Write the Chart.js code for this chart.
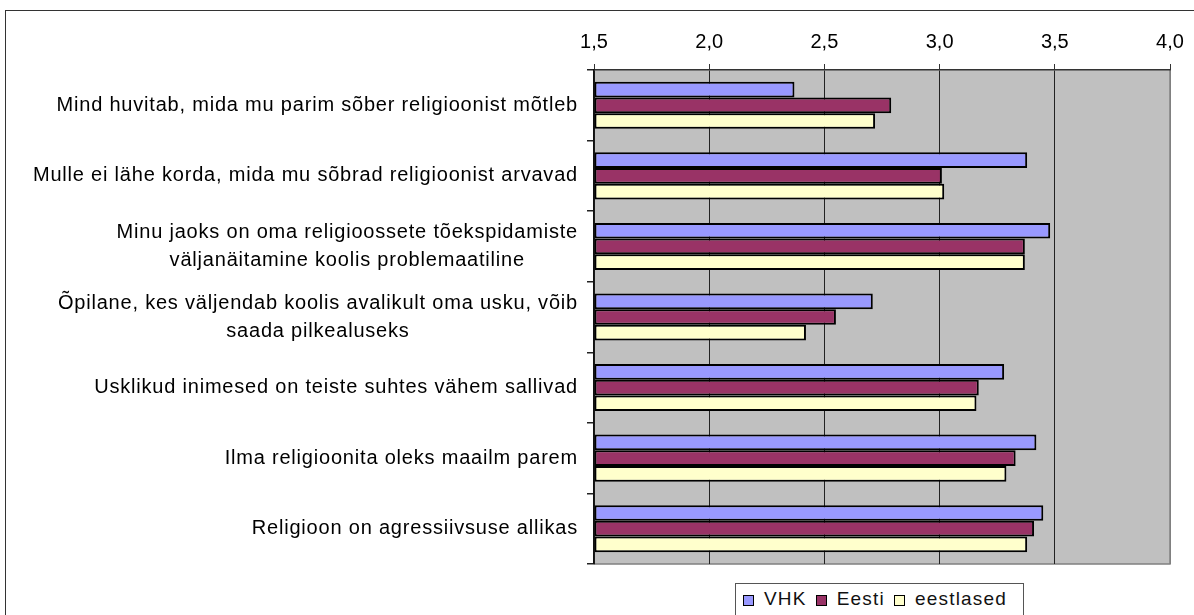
<!DOCTYPE html>
<html>
<head>
<meta charset="utf-8">
<script src="https://cdn.jsdelivr.net/npm/chart.js"></script>
<style>
  body { margin: 0; width: 1194px; height: 615px; overflow: hidden; background: #fff; font-family: "Liberation Sans", Arial, sans-serif; }
  #frame { position: absolute; left: 5px; top: 10px; width: 1300px; height: 700px; border-left: 1.5px solid #333; border-top: 1.5px solid #333; }
  #chart { position: absolute; left: 0; top: 0; }
  #legend { position: absolute; left: 735px; top: 583px; width: 289px; height: 60px; border: 1px solid #555; background: #fff;
            font-size: 19px; letter-spacing: 1.2px; color: #111; display: flex; align-items: flex-start; padding: 4px 0 0 7px; box-sizing: border-box; }
  #legend span.box { display: inline-block; width: 9px; height: 9px; border: 1.5px solid #000; margin: 7px 10px 0 0; }
  #legend span.txt { margin-right: 9px; }
</style>
</head>
<body>
<div id="frame"></div>
<canvas id="chart" width="1194" height="615"></canvas>
<div id="legend"></div>

<script>
  // Väited (kategooriad)
  const categories = [
    ['Mind huvitab, mida mu parim sõber religioonist mõtleb'],
    ['Mulle ei lähe korda, mida mu sõbrad religioonist arvavad'],
    ['Minu jaoks on oma religioossete tõekspidamiste', 'väljanäitamine koolis problemaatiline'],
    ['Õpilane, kes väljendab koolis avalikult oma usku, võib', 'saada pilkealuseks'],
    ['Usklikud inimesed on teiste suhtes vähem sallivad'],
    ['Ilma religioonita oleks maailm parem'],
    ['Religioon on agressiivsuse allikas']
  ];

  // Keskmised hinnangud
  const seriesNames = ['VHK', 'Eesti', 'eestlased'];
  const vhk       = [2.37, 3.38, 3.48, 2.71, 3.28, 3.42, 3.45];
  const eesti     = [2.79, 3.01, 3.37, 2.55, 3.17, 3.33, 3.41];
  const eestlased = [2.72, 3.02, 3.37, 2.42, 3.16, 3.29, 3.38];
  const colors = ['#9999FF', '#993366', '#FFFFCC'];

  // Telje jaotised
  const xTicks = [1.5, 2.0, 2.5, 3.0, 3.5, 4.0];

  const labelFont = '20px "Liberation Sans", Arial, sans-serif';

  // Hall joonisala taust + parem/alumine serv
  const plotBg = {
    id: 'plotBg',
    beforeDraw(chart) {
      const { ctx, chartArea: a } = chart;
      ctx.save();
      ctx.fillStyle = '#C0C0C0';
      ctx.fillRect(a.left, a.top, a.right - a.left, a.bottom - a.top);
      ctx.strokeStyle = '#808080';
      ctx.lineWidth = 1.5;
      ctx.beginPath();
      ctx.moveTo(a.right, a.top);
      ctx.lineTo(a.right, a.bottom);
      ctx.lineTo(a.left, a.bottom);
      ctx.stroke();
      ctx.restore();
    }
  };

  // Kategooriate sildid: plokk paremale joondatud, read keskel
  const catLabels = {
    id: 'catLabels',
    afterDraw(chart) {
      const { ctx } = chart;
      const y = chart.scales.y;
      const rightX = chart.chartArea.left - 16;
      const lineH = 28;
      ctx.save();
      ctx.font = labelFont;
      ctx.letterSpacing = '0.8px';
      ctx.fillStyle = '#000';
      ctx.textAlign = 'center';
      ctx.textBaseline = 'middle';
      categories.forEach((lines, i) => {
        const widest = Math.max(...lines.map(l => ctx.measureText(l).width));
        const cx = rightX - widest / 2;
        const cy = y.getPixelForValue(i);
        lines.forEach((l, k) => {
          ctx.fillText(l, cx, cy + (k - (lines.length - 1) / 2) * lineH);
        });
      });
      ctx.restore();
    }
  };

  const datasets = [vhk, eesti, eestlased].map((d, i) => ({
    label: seriesNames[i],
    data: d,
    backgroundColor: colors[i],
    borderColor: '#000',
    borderWidth: 2,
    borderSkipped: false,
    base: 1.5,
    categoryPercentage: 0.667,
    barPercentage: 1.0
  }));

  new Chart(document.getElementById('chart'), {
    type: 'bar',
    data: { labels: categories.map(l => l.join(' ')), datasets },
    options: {
      indexAxis: 'y',
      responsive: false,
      animation: false,
      layout: { padding: { top: 0, right: 24, bottom: 51, left: 0 } },
      plugins: { legend: { display: false }, tooltip: { enabled: false } },
      scales: {
        x: {
          position: 'top',
          min: 1.5,
          max: 4.0,
          afterBuildTicks: (s) => { s.ticks = xTicks.map(v => ({ value: v })); },
          afterFit: (s) => { s.height = 70; },
          ticks: {
            font: { family: '"Liberation Sans", Arial, sans-serif', size: 20 },
            color: '#000',
            padding: 10,
            callback: (v) => Number(v).toFixed(1).replace('.', ',')
          },
          grid: {
            color: (c) => c.index === xTicks.length - 1 ? '#808080' : '#222',
            lineWidth: 1,
            drawTicks: true,
            tickLength: 6,
            tickColor: '#333'
          },
          border: { color: '#333', width: 1.5 }
        },
        y: {
          afterFit: (s) => { s.width = 594; },
          ticks: { display: false },
          grid: {
            offset: true,
            drawOnChartArea: false,
            drawTicks: true,
            tickLength: 7,
            tickColor: '#222',
            lineWidth: 1.5
          },
          border: { color: '#111', width: 1.5 }
        }
      }
    },
    plugins: [plotBg, catLabels]
  });

  // Legend (HTML)
  const legend = document.getElementById('legend');
  seriesNames.forEach((n, i) => {
    const b = document.createElement('span');
    b.className = 'box';
    b.style.background = colors[i];
    const t = document.createElement('span');
    t.className = 'txt';
    t.textContent = n;
    legend.appendChild(b);
    legend.appendChild(t);
  });
</script>
</body>
</html>
